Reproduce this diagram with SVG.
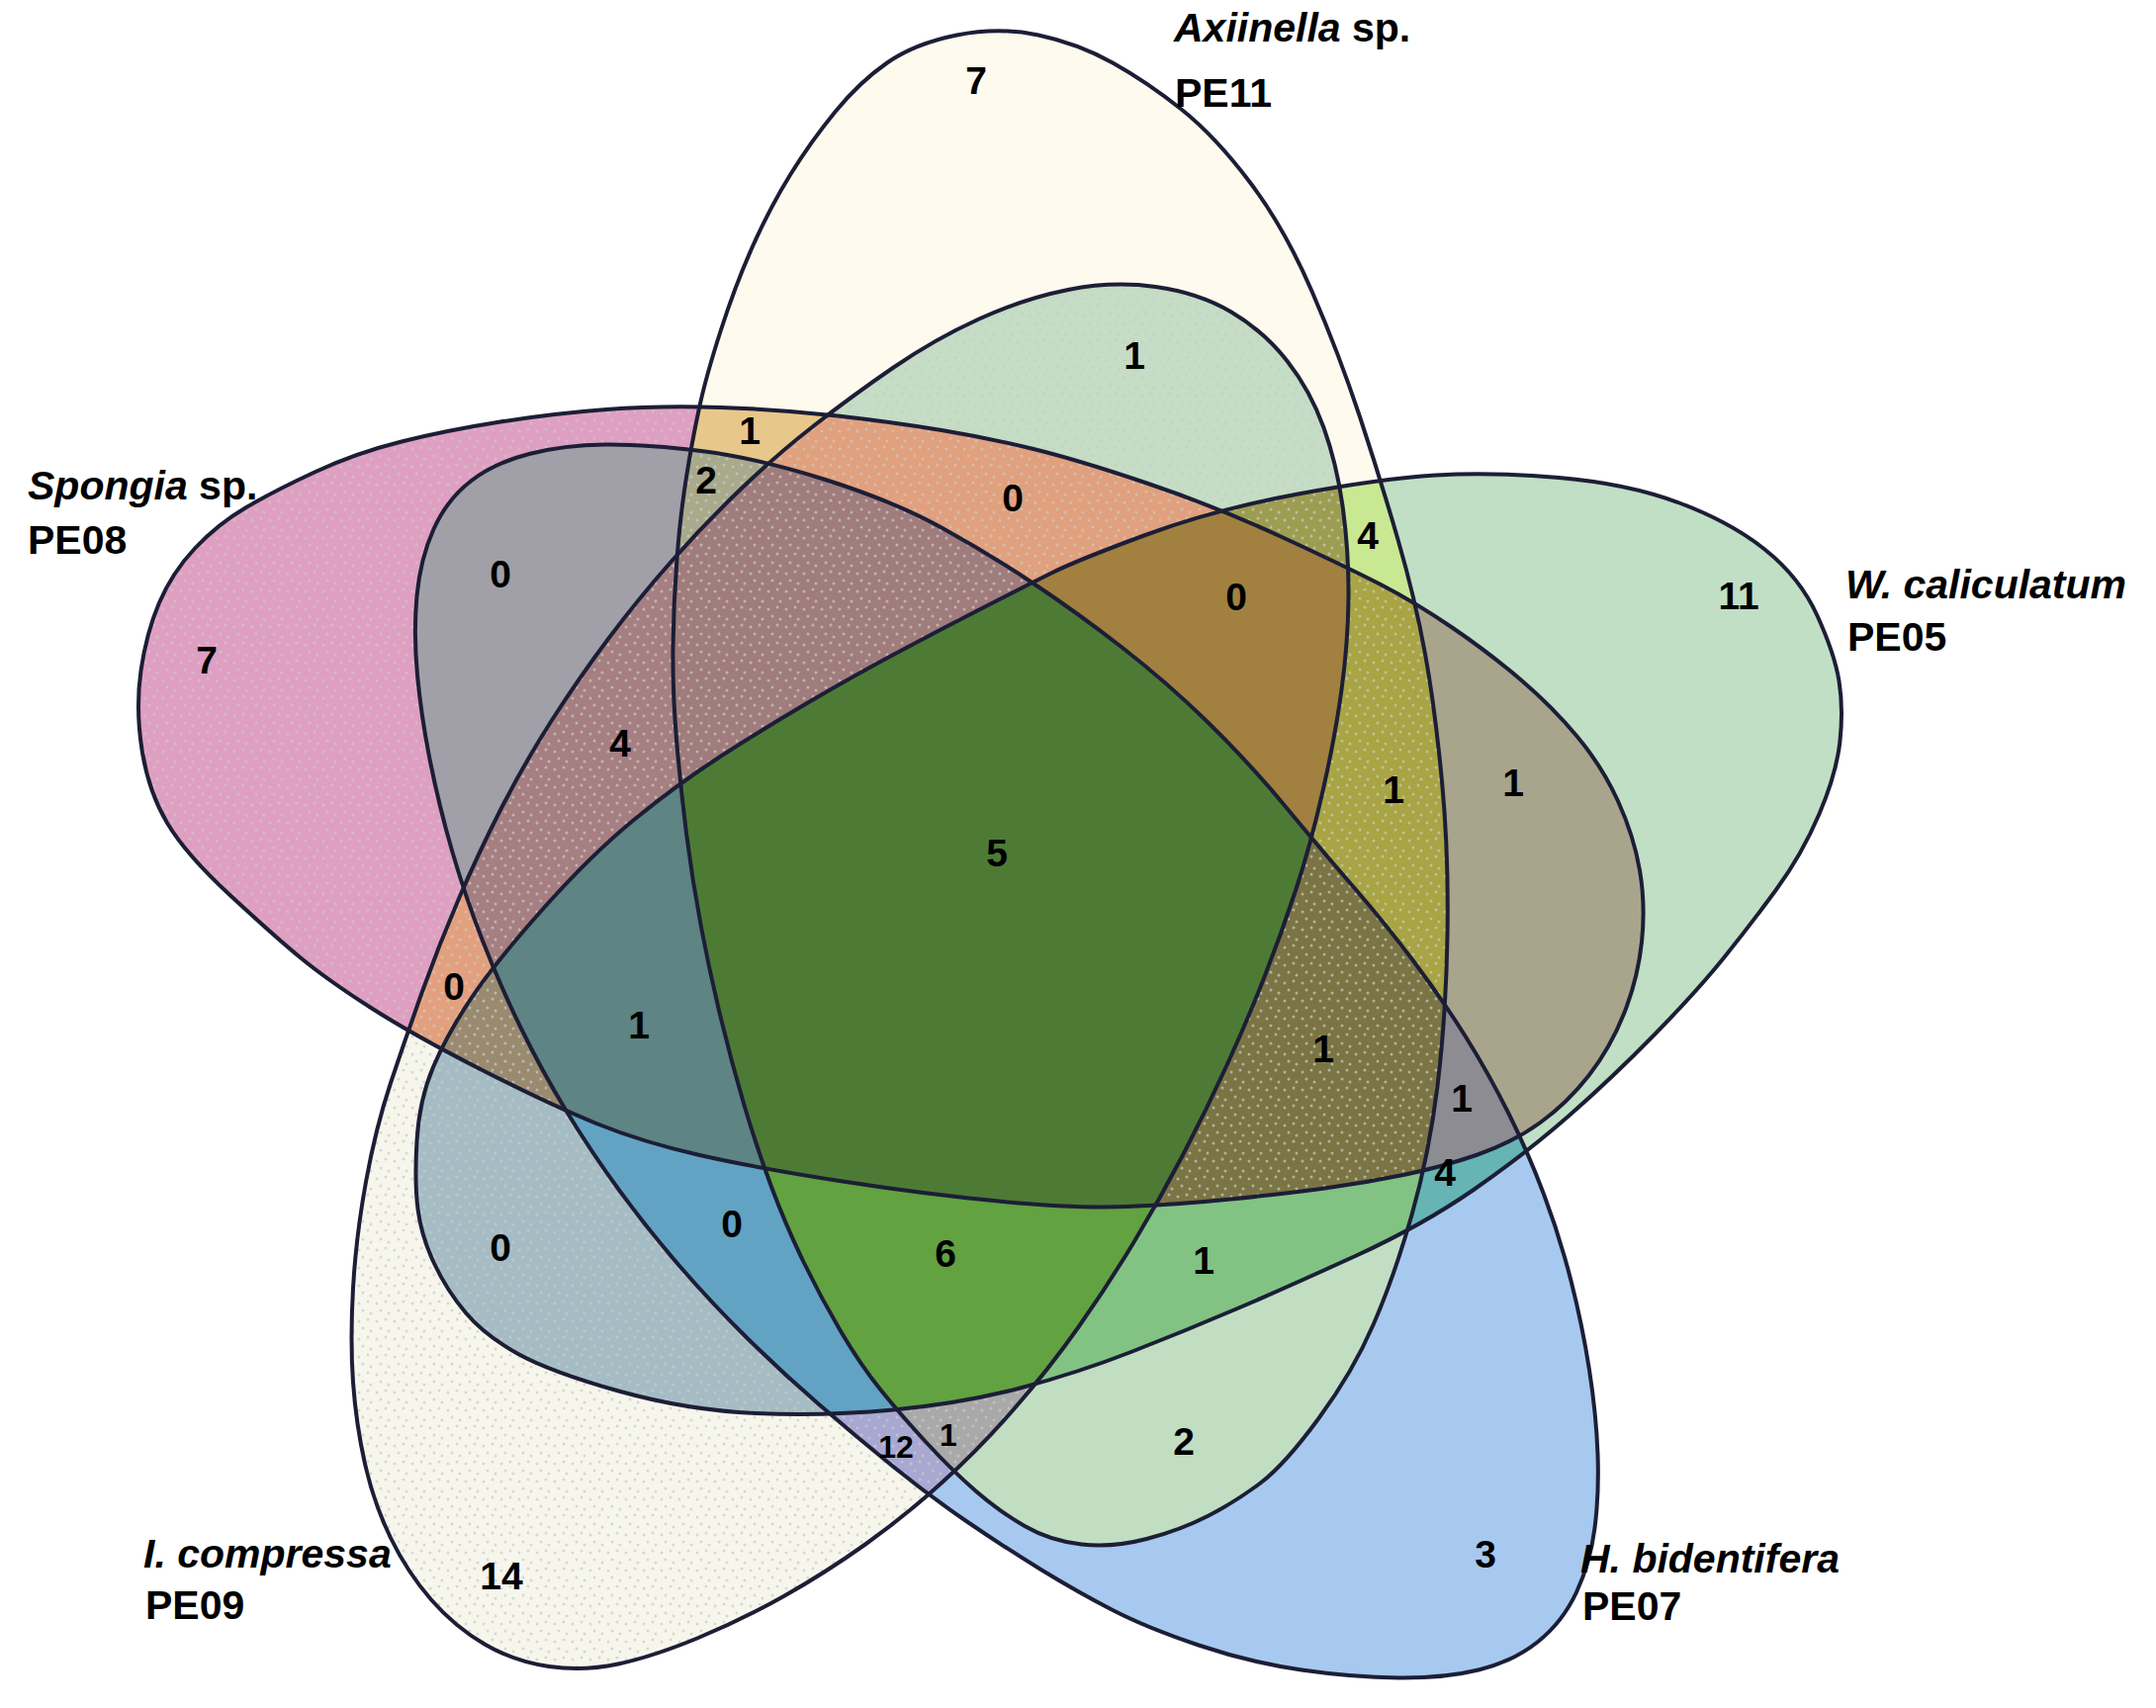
<svg xmlns="http://www.w3.org/2000/svg" xmlns:xlink="http://www.w3.org/1999/xlink" width="2180" height="1727" viewBox="0 0 2180 1727">
<style>
.o{fill:none;stroke:#1c1e36;stroke-width:4}
.n{font-family:"Liberation Sans",Arial,sans-serif;font-weight:bold;font-size:39px;fill:#000;text-anchor:middle}
.s{font-size:32px}
.lab{font-family:"Liberation Sans",Arial,sans-serif;font-weight:bold;font-size:41px;fill:#000}
.it{font-style:italic}
.d{fill:url(#dots)}
</style>
<defs>
<pattern id="dots" width="18" height="18" patternUnits="userSpaceOnUse">
<g fill="#c6cec4" fill-opacity="0.7"><circle cx="3" cy="4" r="1.5"/><circle cx="12" cy="2" r="1.5"/><circle cx="7" cy="11" r="1.5"/><circle cx="15" cy="14" r="1.5"/></g>
</pattern>
<path id="pA" d="M967.5,35.5 Q1010,27 1050,35.5 T1125,63.5 T1194.5,110.5 T1264,184.5 T1326.5,294.5 T1375,421.5 T1413.5,545.5 T1441,661 T1458,790 T1463.5,946.5 T1453.5,1098 T1427.5,1228.5 T1389,1338.5 T1333.5,1434 T1274.5,1499.5 T1222,1532.5 T1159.5,1556 T1093.5,1561.5 T1036,1543 T986.5,1507.5 T937.5,1459.5 T891,1406 T850,1346 T812.5,1276 T780,1200 T752.5,1117.5 T729,1030 T709,937.5 T694,842.5 T684,747.5 T680.5,655 T684.5,565 T694,482.5 T707,412.5 T729,333.5 T761.5,248 T799.5,176 T844.5,113 T897,63.5 T967.5,35.5 Z"/>
<path id="pS" d="M613.5,414 Q667,410 728.5,412 T847,420.5 T952,435 T1045,454 T1159.5,488.5 T1295,542.5 T1396,591 T1469,635 T1538.5,688 T1595,745 T1636,810 T1658,880 T1660,952.5 T1642,1025 T1606.5,1087.5 T1557.5,1135 T1494,1167.5 T1419,1188 T1339.5,1201.5 T1244.5,1212.5 T1140,1220 T1014.5,1215 T852,1194.5 T707.5,1168 T603,1136 T486.5,1081.5 T373.5,1018 T304,968.5 T233,905.5 T169,832 T143.5,758 T142.5,678 T161,609.5 T197,554.5 T249,513 T319,477 T406,446.5 T506,426.5 T613.5,414 Z"/>
<path id="pW" d="M1451.5,480.5 Q1507,477 1576.5,483 T1698,508.5 T1785,556 T1837.5,622.5 T1859.5,688.5 T1860.5,749 T1839.5,823 T1796,899.5 T1743,968.5 T1673,1046 T1586,1128.5 T1490,1203 T1371.5,1269.5 T1252.5,1322.5 T1145,1366.5 T1031.5,1403.5 T903.5,1425.5 T764.5,1429 T625.5,1406.5 T523,1368.5 T471,1327.5 T439,1277.5 T422.5,1222.5 T421.5,1153.5 T438,1079 T476,1010 T549,919 T641.5,828.5 T727.5,765.5 T816,711 T906,660.5 T993,615 T1063,579.5 T1159.5,540.5 T1312.5,499.5 T1451.5,480.5 Z"/>
<path id="pH" d="M611.5,449.5 Q653,449 709,456 T834.5,485 T952,533.5 T1045,590 T1135,655 T1221,730 T1301,817 T1370,898.5 T1429,971.5 T1481.5,1047.5 T1525,1125 T1561,1207.5 T1588.5,1295 T1607,1385 T1615.5,1470 T1612.5,1545 T1594,1610 T1555,1660 T1495,1688.5 T1414,1696.5 T1316,1688.5 T1212,1663.5 T1125,1628 T1052.5,1587 T977,1538 T902,1482 T827.5,1419.5 T755,1352.5 T687.5,1280.5 T626.5,1204 T573,1124 T526.5,1039 T487.5,950 T457,860 T435,770 T422,682.5 T421.5,602.5 T438.5,535 T476,486.5 T535,459 T611.5,449.5 Z"/>
<path id="pI" d="M1080,293 Q1125,284 1168.5,290 T1245,315.5 T1301.5,365 T1338.5,432.5 T1358,515 T1363.5,605 T1356.5,697.5 T1337.5,800 T1310.5,899 T1279,986.5 T1241,1076 T1196.5,1167 T1146.5,1256 T1090,1342.5 T1025,1425 T952.5,1499 T875,1561.5 T792.5,1614 T705,1656.5 T625,1682.5 T555,1685 T490,1662.5 T436,1617.5 T395,1555 T369,1480 T357,1397.5 T357,1302.5 T370,1195 T395,1095 T427,1002.5 T464,908.5 T507,817 T557.5,729 T615,646 T678.5,568 T748.5,495 T823.5,430 T903.5,371.5 T990,322.5 T1080,293 Z"/>
<clipPath id="cA"><use href="#pA"/></clipPath>
<clipPath id="cS"><use href="#pS"/></clipPath>
<clipPath id="cW"><use href="#pW"/></clipPath>
<clipPath id="cH"><use href="#pH"/></clipPath>
<clipPath id="cI"><use href="#pI"/></clipPath>
</defs>
<rect width="2180" height="1727" fill="#fff"/>
<g id="regions">
<use href="#pA" fill="#fffaee"/>
<use href="#pS" fill="#df9fc2"/><use href="#pS" class="d"/>
<use href="#pW" fill="#c1dfc4"/>
<use href="#pH" fill="#a7c9ef"/>
<use href="#pI" fill="#f7f6ec"/><use href="#pI" class="d"/>
<g clip-path="url(#cS)"><use href="#pA" fill="#e8c78a"/></g>
<g clip-path="url(#cS)"><use href="#pW" fill="#a9a48c"/></g>
<g clip-path="url(#cS)"><use href="#pH" fill="#a19fa7"/></g>
<g clip-path="url(#cS)"><use href="#pI" fill="#e3a07e"/><use href="#pI" class="d"/></g>
<g clip-path="url(#cA)"><use href="#pW" fill="#c9e892"/></g>
<g clip-path="url(#cA)"><use href="#pH" fill="#c1dec2"/></g>
<g clip-path="url(#cA)"><use href="#pI" fill="#c5dcc5"/><use href="#pI" class="d"/></g>
<g clip-path="url(#cW)"><use href="#pH" fill="#66b4b4"/></g>
<g clip-path="url(#cW)"><use href="#pI" fill="#a6bcc4"/><use href="#pI" class="d"/></g>
<g clip-path="url(#cH)"><use href="#pI" fill="#a9a8d2"/><use href="#pI" class="d"/></g>
<g clip-path="url(#cS)"><g clip-path="url(#cA)"><use href="#pW" fill="#a9a444"/><use href="#pW" class="d"/></g></g>
<g clip-path="url(#cS)"><g clip-path="url(#cA)"><use href="#pH" fill="#a9aa8c"/><use href="#pH" class="d"/></g></g>
<g clip-path="url(#cS)"><g clip-path="url(#cA)"><use href="#pI" fill="#e1a07e"/><use href="#pI" class="d"/></g></g>
<g clip-path="url(#cS)"><g clip-path="url(#cW)"><use href="#pH" fill="#8c8c92"/></g></g>
<g clip-path="url(#cS)"><g clip-path="url(#cW)"><use href="#pI" fill="#9a8a70"/><use href="#pI" class="d"/></g></g>
<g clip-path="url(#cS)"><g clip-path="url(#cH)"><use href="#pI" fill="#a67f82"/><use href="#pI" class="d"/></g></g>
<g clip-path="url(#cA)"><g clip-path="url(#cW)"><use href="#pH" fill="#82c383"/></g></g>
<g clip-path="url(#cA)"><g clip-path="url(#cW)"><use href="#pI" fill="#9d9d52"/><use href="#pI" class="d"/></g></g>
<g clip-path="url(#cA)"><g clip-path="url(#cH)"><use href="#pI" fill="#a9a9a9"/><use href="#pI" class="d"/></g></g>
<g clip-path="url(#cW)"><g clip-path="url(#cH)"><use href="#pI" fill="#62a3c4"/></g></g>
<g clip-path="url(#cS)"><g clip-path="url(#cA)"><g clip-path="url(#cW)"><use href="#pH" fill="#7b7444"/><use href="#pH" class="d"/></g></g></g>
<g clip-path="url(#cS)"><g clip-path="url(#cA)"><g clip-path="url(#cW)"><use href="#pI" fill="#a2803f"/></g></g></g>
<g clip-path="url(#cS)"><g clip-path="url(#cA)"><g clip-path="url(#cH)"><use href="#pI" fill="#a07c7c"/><use href="#pI" class="d"/></g></g></g>
<g clip-path="url(#cS)"><g clip-path="url(#cW)"><g clip-path="url(#cH)"><use href="#pI" fill="#5e8484"/></g></g></g>
<g clip-path="url(#cA)"><g clip-path="url(#cW)"><g clip-path="url(#cH)"><use href="#pI" fill="#62a240"/></g></g></g>
<g clip-path="url(#cS)"><g clip-path="url(#cA)"><g clip-path="url(#cW)"><g clip-path="url(#cH)"><use href="#pI" fill="#4d7b36"/></g></g></g></g>
</g>
<g id="set-axinella"><use href="#pA" class="o"/><text class="lab" x="1187" y="42"><tspan class="it">Axiinella</tspan> sp.</text><text class="lab" x="1188" y="108">PE11</text></g>
<g id="set-spongia"><use href="#pS" class="o"/><text class="lab" x="28" y="505"><tspan class="it">Spongia</tspan> sp.</text><text class="lab" x="28" y="560">PE08</text></g>
<g id="set-wcaliculatum"><use href="#pW" class="o"/><text class="lab it" x="1866" y="605">W. caliculatum</text><text class="lab" x="1868" y="658">PE05</text></g>
<g id="set-hbidentifera"><use href="#pH" class="o"/><text class="lab it" x="1598" y="1590">H. bidentifera</text><text class="lab" x="1600" y="1638">PE07</text></g>
<g id="set-icompressa"><use href="#pI" class="o"/><text class="lab it" x="145" y="1585">I. compressa</text><text class="lab" x="147" y="1637">PE09</text></g>
<g id="counts">
<text class="n" x="987" y="95">7</text>
<text class="n" x="1147" y="373">1</text>
<text class="n" x="758" y="449">1</text>
<text class="n" x="714" y="499">2</text>
<text class="n" x="1024" y="517">0</text>
<text class="n" x="1383" y="555">4</text>
<text class="n" x="506" y="594">0</text>
<text class="n" x="1250" y="617">0</text>
<text class="n" x="209" y="681">7</text>
<text class="n" x="1758" y="616">11</text>
<text class="n" x="627" y="765">4</text>
<text class="n" x="1409" y="812">1</text>
<text class="n" x="1530" y="805">1</text>
<text class="n" x="1008" y="876">5</text>
<text class="n" x="459" y="1011">0</text>
<text class="n" x="646" y="1050">1</text>
<text class="n" x="1338" y="1074">1</text>
<text class="n" x="1478" y="1124">1</text>
<text class="n" x="1461" y="1199">4</text>
<text class="n" x="506" y="1275">0</text>
<text class="n" x="740" y="1251">0</text>
<text class="n" x="956" y="1281">6</text>
<text class="n" x="1217" y="1288">1</text>
<text class="n s" x="906" y="1474">12</text>
<text class="n s" x="959" y="1462">1</text>
<text class="n" x="1197" y="1471">2</text>
<text class="n" x="507" y="1607">14</text>
<text class="n" x="1502" y="1585">3</text>
</g>
</svg>
